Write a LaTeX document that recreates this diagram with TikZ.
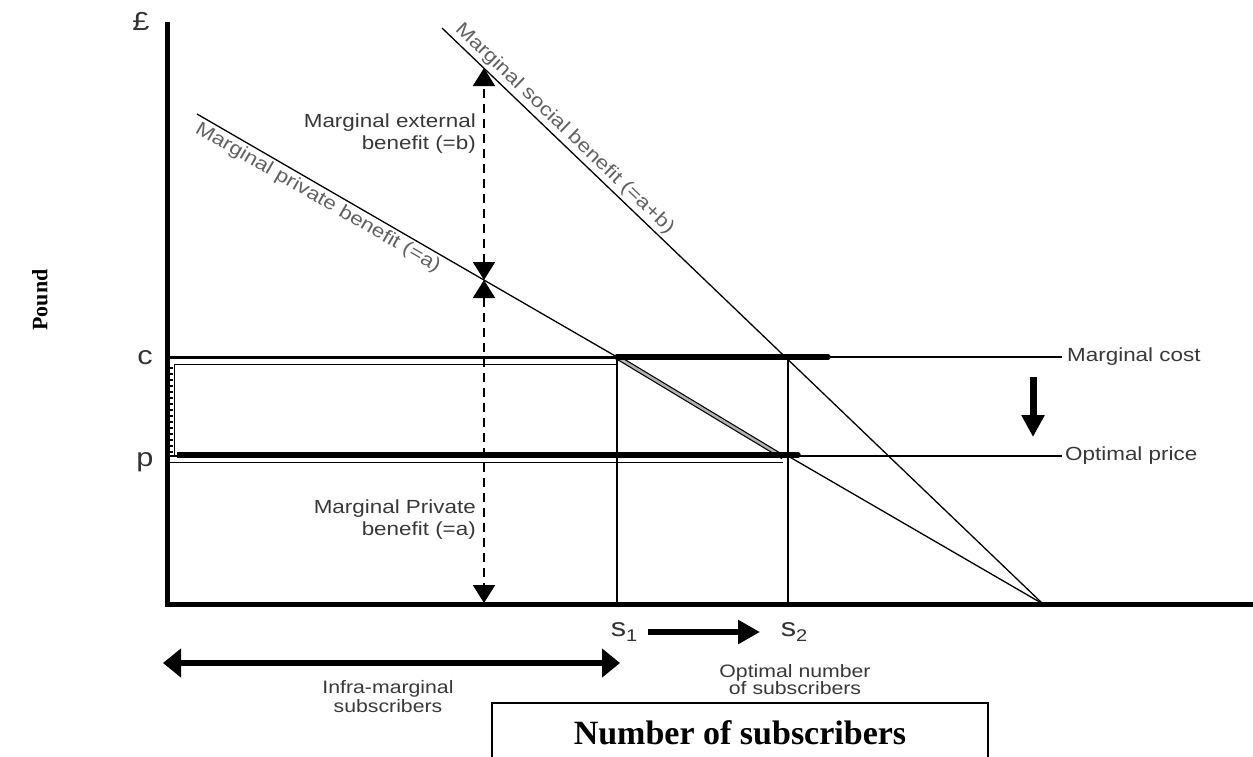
\documentclass[tikz,border=0pt]{standalone}
\usepackage{fontspec}
\setmainfont{Liberation Serif}
\newfontfamily\lab[FakeStretch=1.18]{Liberation Sans}
\usetikzlibrary{arrows.meta}

\begin{document}
\begin{tikzpicture}[x=1pt,y=-1pt,
  lbl/.style={font=\lab\fontsize{19}{22}\selectfont, text=black!78, inner sep=0pt},
  slopelbl/.style={font=\lab\fontsize{19}{22}\selectfont, text=black!62, inner sep=3pt, sloped},
  sym/.style={font=\lab\fontsize{26}{30}\selectfont, text=black!80, inner sep=0pt},
  curve/.style={line width=1.3pt},
  guide/.style={line width=1.5pt},
  thickseg/.style={line width=5.5pt},
  dasharrow/.style={line width=2pt, dash pattern=on 9pt off 6pt,
    {Triangle[width=22pt,length=18pt]}-{Triangle[width=22pt,length=18pt]}},
  bigarrow/.style={line width=6pt, -{Triangle[width=23pt,length=22pt]}},
  twoway/.style={line width=6pt,
    {Triangle[width=28pt,length=18pt]}-{Triangle[width=28pt,length=18pt]}},
]
\useasboundingbox (0,0) rectangle (1253,756);

% key points of the chart
\coordinate (O) at (167,604);
\coordinate (Ytop) at (167,22);
\coordinate (Xend) at (1253,604);
\coordinate (mpbA) at (197,114);
\coordinate (mpbB) at (1043,604);
\coordinate (msbA) at (442,28);
\coordinate (msbB) at (1043,604);
\coordinate (cL) at (167,357);
\coordinate (cR) at (1062,357);
\coordinate (pL) at (170,456);
\coordinate (pR) at (1062,456);
\coordinate (E1) at (617,357);
\coordinate (E2) at (788,456);
\coordinate (F2) at (788,357);
\coordinate (S1) at (617,604);
\coordinate (S2) at (788,604);
\coordinate (mcEnd) at (828,357);
\coordinate (opStart) at (177,455);
\coordinate (opEnd) at (798,455);
\coordinate (opCap) at (797,455);
\coordinate (dTop) at (484,68);
\coordinate (dMid) at (484,280);
\coordinate (dBot) at (484,603);
\coordinate (dnA) at (1033,377);
\coordinate (dnB) at (1033,437);
\coordinate (arS1) at (648,632);
\coordinate (arS2) at (760,632);
\coordinate (imL) at (163,663);
\coordinate (imR) at (620,663);

% surplus region between c and p, outlined with a double line
\draw[line width=1.3pt, double=white, double distance=5pt]
  (618,361) -| (171,459) -- (783,459);
\draw[line width=4pt, dash pattern=on 1.5pt off 4.5pt] (171,367) -- (171,455);
\draw[line width=1.2pt, double=black!30, double distance=2.5pt] (E1) -- (783,457);

% price levels
\draw[guide] (cL) -- (cR);
\draw[guide] (pL) -- (pR);

% benefit curves
\draw[curve] (mpbA) -- (E1);
\draw[curve] (E2) -- (mpbB);
\draw[curve] (msbA) -- (msbB);

% subscriber levels
\draw[line width=1.8pt] (E1) -- (S1);
\draw[line width=1.3pt] (F2) -- (S2);

% highlighted segments
\draw[thickseg, line cap=round] (E1) -- (mcEnd);
\draw[thickseg] (opStart) -- (opEnd);
\draw[thickseg, line cap=round] (opCap) -- (opEnd);

% axes
\draw[line width=5pt] (Ytop) -- (O) -- (Xend);

% benefit gaps
\draw[dasharrow] (dMid) -- (dTop);
\draw[dasharrow] (dMid) -- (dBot);

% shifts
\draw[line width=7pt, -{Triangle[width=22pt,length=22pt]}] (dnA) -- (dnB);
\draw[bigarrow] (arS1) -- (arS2);
\draw[twoway] (imL) -- (imR);

% curve labels
\path (mpbA) -- (mpbB) node[slopelbl, below, pos=0.15] (mpbLbl) {Marginal private benefit (=a)};
\path (msbA) -- (msbB) node[slopelbl, above, pos=0.19] (msbLbl) {Marginal social benefit (=a+b)};

% text labels
\node[lbl, anchor=east, align=right] (extLbl) at (476,134) {Marginal external\\benefit (=b)};
\node[lbl, anchor=east, align=right] (privLbl) at (476,520) {Marginal Private\\benefit (=a)};
\node[lbl, anchor=west] (mcLbl) at (1067,357) {Marginal cost};
\node[lbl, anchor=west] (opLbl) at (1065,456) {Optimal price};
\node[lbl, align=center, font=\lab\fontsize{18}{19}\selectfont] (imLbl) at (388,697) {Infra-marginal\\subscribers};
\node[lbl, align=center, font=\lab\fontsize{18}{17}\selectfont] (onLbl) at (795,680) {Optimal number\\of subscribers};

\node[sym, anchor=base] (cLbl) at (145,364) {c};
\node[sym, anchor=base] (pLbl) at (145,466) {p};
\node[sym, anchor=base] (poundLbl) at (141,30) {£};
\node[sym] (s1) at (624,632) {s\raisebox{-0.3ex}{\fontsize{17}{20}\selectfont 1}};
\node[sym] (s2) at (794,632) {s\raisebox{-0.3ex}{\fontsize{17}{20}\selectfont 2}};

% axis titles
\node[rotate=90, font=\bfseries\fontsize{22}{26}\selectfont] (yTitle) at (40,300) {Pound};
\draw[line width=1.5pt] (492,758) |- (988,703) -- (988,758);
\node[font=\bfseries\fontsize{34}{40}\selectfont] (xTitle) at (740,733) {Number of subscribers};
\end{tikzpicture}
\end{document}
